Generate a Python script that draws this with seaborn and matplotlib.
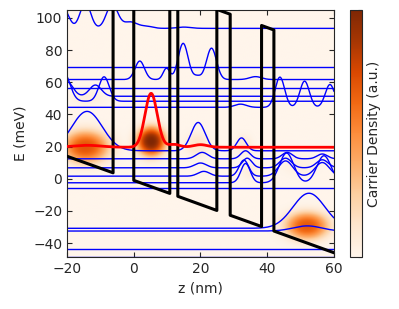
import numpy as np
import pandas as pd
import seaborn as sns
import matplotlib.pyplot as plt

sns.set_style("ticks")
plt.rcParams['font.family'] = ['DejaVu Sans']

# conduction band edge, corners (z in nm, E in meV)
cb_z = [-20, -6.2, -6.2, 0, 0, 10.8, 10.8, 13.2, 13.2, 24.9, 24.9, 28.9, 28.9, 38.3, 38.3, 42, 42, 60]
cb_E = [14, 3.7, 128.7, 124.0, -1, -9.1, 115.9, 114.1, -10.9, -19.7, 105.3, 102.3, -22.7, -29.7, 95.3, 92.5, -32.5, -46]

# subband energies (meV) and the |psi|^2 bumps drawn on each: (centre z, height, width)
levels = [93.5, 69.2, 61.7, 56.6, 51.3, 48.2, 44.4,
          17.4, 12.4, 6.8, 1.6, -2.5, -5.7,
          -30.8, -32.5, -43.5, -48.6]
bumps = [
    [(-21, 12, 2.2), (-14.5, 16, 2.2), (-6.5, 15, 2.4), (-1, 4, 3), (4, 1.2, 2.5), (15, 0.8, 3)],
    [],
    [(1.8, 11.5, 2.0), (9.8, 7, 1.4), (14.8, 22.5, 2.1), (23.3, 19.5, 2.1), (19, 2, 1.5), (36.5, 1.8, 2.5)],
    [],
    [(-20, 9, 2.5), (-11.5, 7, 2.5)],
    [(-21, 18, 2.6), (-8.9, 15.2, 2.2)],
    [(43.8, 18.8, 2.0), (51.2, 16.3, 2.0), (58.8, 14.2, 2.0), (32, 2, 2.5)],
    [(-14, 24.5, 6.5), (19.3, 17.6, 3.0), (32.3, 8, 2.0)],
    [(20.5, 4, 2.5), (33.5, 5, 2.0), (46, 4, 2.2), (56.5, 3, 2.2)],
    [(20, 3, 2.5), (34, 6, 2.0), (45.5, 6, 2.5), (56.5, 5, 2.5)],
    [(21, 3, 2.5), (33, 10, 2.0), (45.5, 9.5, 3.0), (56.5, 8.5, 3.0)],
    [(33.5, 12, 2.0), (45.8, 18.5, 3.0), (57, 16.8, 3.0)],
    [],
    [(52.5, 21.8, 6.8)],
    [(52, 3.2, 6)],
    [],
    [],
]

# the highlighted (upper laser) state
red_level = 19.6
red_bumps = [(5.2, 33.5, 2.6), (-14, 1.2, 6), (12, 1.8, 2.5), (20, 1.6, 3)]

# carrier density spots: centre z, centre E, width z, width E, strength
spot_z = [-14.5, 5.2, 52, 19, 33, -14, 35, 50]
spot_E = [19.5, 23, -29.5, 21, 21, 50, 4, 8]
spot_wz = [7.0, 4.3, 6.5, 3.5, 2.5, 4.5, 2.5, 5.0]
spot_wE = [10.0, 9.0, 8.5, 7.0, 6.0, 5.0, 5.0, 6.0]
spot_amp = [0.7, 1.0, 0.68, 0.13, 0.09, 0.06, 0.06, 0.05]

z_min, z_max = -20, 60
E_min, E_max = -48.7, 105

z = np.linspace(z_min, z_max, 801)


def curve(level, bl):
    y = np.full_like(z, level)
    for zc, a, w in bl:
        y = y + a * np.exp(-((z - zc) / w) ** 2)
    return y


zz, EE = np.meshgrid(np.linspace(z_min, z_max, 400), np.linspace(E_min, E_max, 400))
dens = np.zeros_like(zz)
for i in range(len(spot_z)):
    dens += spot_amp[i] * np.exp(-(((zz - spot_z[i]) / spot_wz[i]) ** 2
                                   + ((EE - spot_E[i]) / spot_wE[i]) ** 2) ** 1.3)

fig = plt.figure(figsize=(3.99, 3.09), dpi=100)
ax = fig.add_axes([0.168, 0.168, 0.669, 0.80])
cax = fig.add_axes([0.877, 0.168, 0.030, 0.80])

im = ax.imshow(dens, extent=[z_min, z_max, E_min, E_max], origin='lower', aspect='auto',
               cmap='Oranges', vmin=0, vmax=1, interpolation='bilinear', zorder=0)

for lev, bl in zip(levels, bumps):
    sns.lineplot(x=z, y=curve(lev, bl), color='#0000ff', lw=1.0, ax=ax, zorder=2)

df_cb = pd.DataFrame({'z': cb_z, 'E': cb_E})
sns.lineplot(data=df_cb, x='z', y='E', sort=False, estimator=None, color='k', lw=2.2,
             ax=ax, zorder=3)

sns.lineplot(x=z, y=curve(red_level, red_bumps), color='red', lw=2.0, ax=ax, zorder=4)

ax.set_xlim(z_min, z_max)
ax.set_ylim(E_min, E_max)
ax.set_xticks([-20, 0, 20, 40, 60])
ax.set_yticks([-40, -20, 0, 20, 40, 60, 80, 100])
ax.set_xlabel('z (nm)', fontsize=10)
ax.set_ylabel('E (meV)', fontsize=10)
ax.tick_params(direction='in', top=True, right=True, labelsize=10)

cb = fig.colorbar(im, cax=cax)
cb.set_label('Carrier Density (a.u.)', fontsize=10)
cb.ax.tick_params(direction='in', labelright=False, length=3)

fig.savefig('out.png', dpi=100)
